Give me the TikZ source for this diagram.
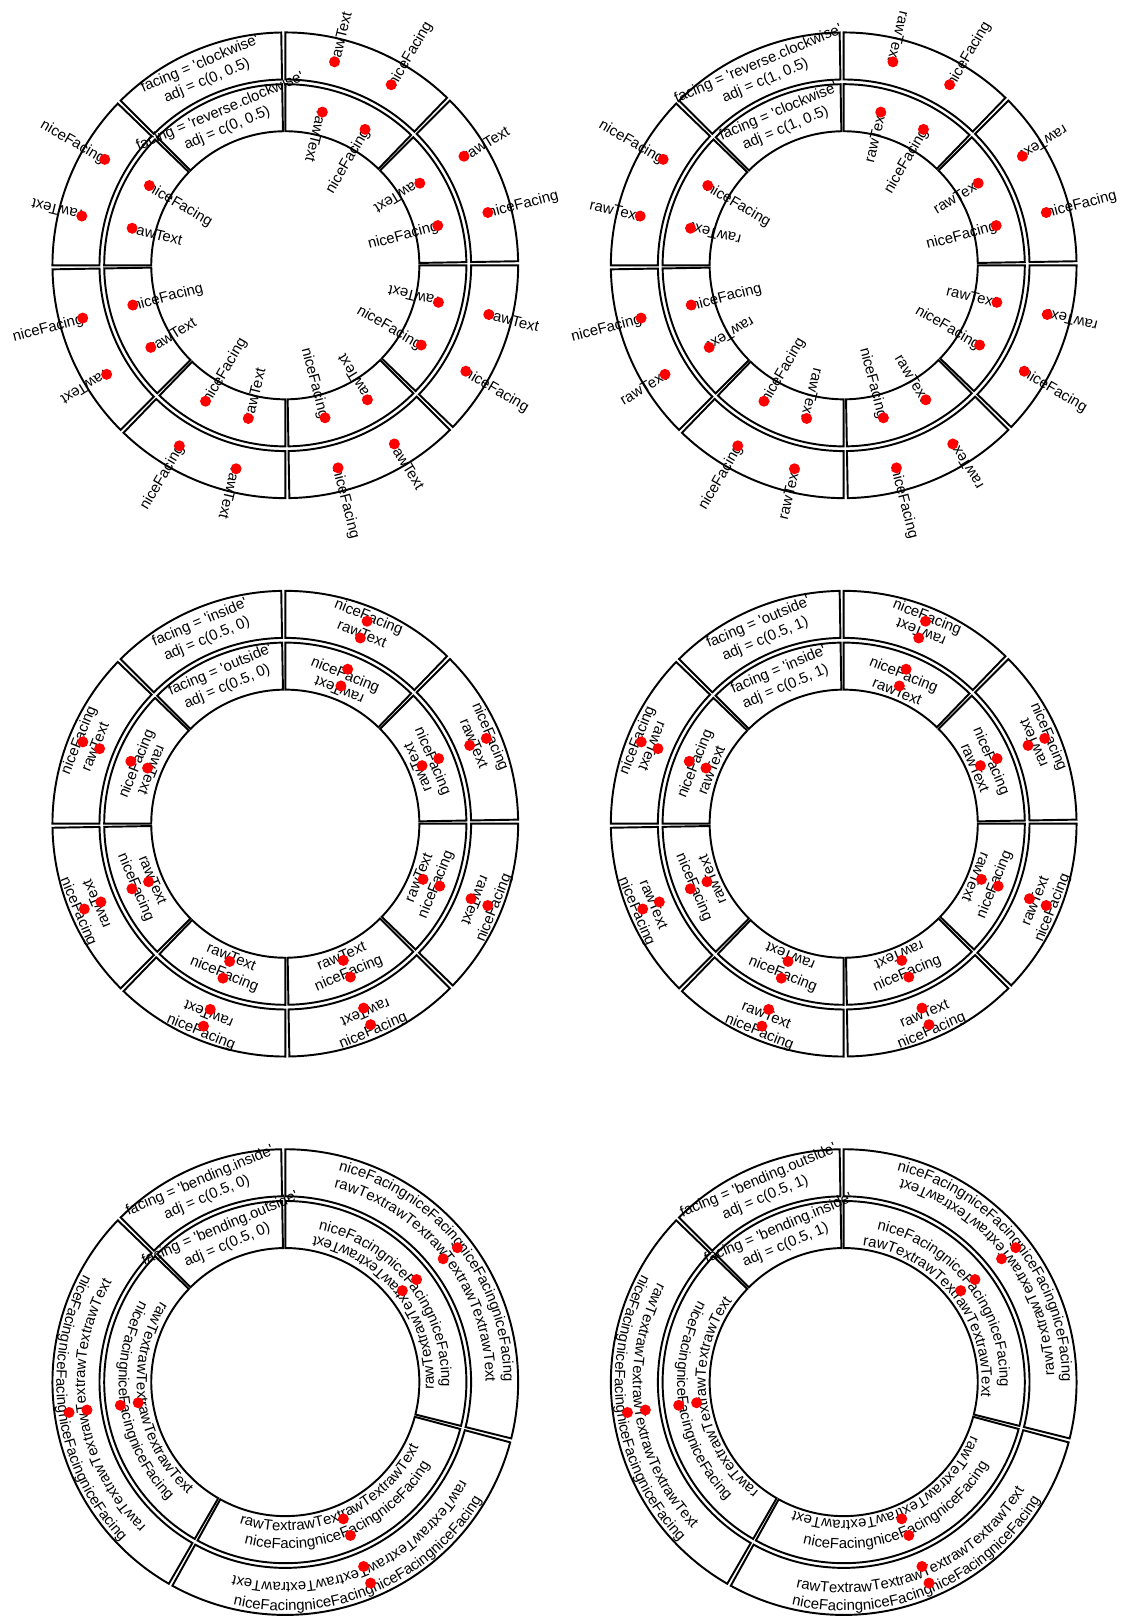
\documentclass[tikz,border=0pt]{standalone}
\usepackage{fontspec}
\setmainfont{Liberation Sans}[Ligatures=TeXOff]
\usetikzlibrary{decorations.text}

\pgfdeclarelayer{dots}
\pgfsetlayers{main,dots}

\newcommand{\plotfont}{\fontsize{8.5pt}{10.2pt}\selectfont}

% track radii (cm)
\def\rOo{4.657}
\def\rOi{3.716}
\def\rIo{3.622}
\def\rIi{2.681}

% anchor name from adj codes 0/1/2
\newcommand{\adjanchor}[2]{%
  \ifcase\numexpr#2\relax
    \ifcase\numexpr#1\relax south west\or south\or south east\fi
  \or
    \ifcase\numexpr#1\relax west\or center\or east\fi
  \or
    \ifcase\numexpr#1\relax north west\or north\or north east\fi
  \fi}

% one cell: start angle, end angle, inner radius, outer radius
\newcommand{\sectorcell}[4]{%
  \draw[cellborder] ({#1}:{#4}) arc[start angle={#1}, end angle={#2}, radius={#4}]
    -- ({#2}:{#3}) arc[start angle={#2}, end angle={#1}, radius={#3}] -- cycle;}

% straight text: angle, radius, rotation offset, adj x, adj y, nice, text, name
\newcommand{\circtext}[8]{%
  \pgfmathsetmacro\tang{#1}%
  \pgfmathsetmacro\trot{\tang+#3}%
  \pgfmathtruncatemacro\tax{round(2*#4)}%
  \pgfmathtruncatemacro\tay{round(2*#5)}%
  \pgfmathtruncatemacro\tflip{(#6==1)&&(cos(\trot)<0)}%
  \ifnum\tflip=1
    \pgfmathsetmacro\trot{\trot+180}%
    \pgfmathtruncatemacro\tax{2-\tax}%
    \pgfmathtruncatemacro\tay{2-\tay}%
  \fi
  \edef\tanc{\adjanchor{\tax}{\tay}}%
  \node[facetext, rotate=\trot, anchor=\tanc] (#8) at ({\tang}:{#2}) {#7};
  \begin{pgfonlayer}{dots}
    \fill[reddot] ({\tang}:{#2}) circle[radius=0.11];
  \end{pgfonlayer}}

% bent text: angle, radius, side (1 inside, -1 outside), adj y, nice, text
\newcommand{\bendtext}[6]{%
  \pgfmathsetmacro\bang{#1}%
  \pgfmathtruncatemacro\bside{#3}%
  \pgfmathsetmacro\bay{#4}%
  \pgfmathtruncatemacro\bflip{(#5==1)&&((#3)*sin(\bang)<0)}%
  \ifnum\bflip=1
    \pgfmathtruncatemacro\bside{-(#3)}%
    \pgfmathsetmacro\bay{1-#4}%
  \fi
  \pgfmathsetmacro\brad{#2-(\bside)*(\bay)*0.21}%
  \pgfmathsetmacro\bfrom{\bang+(\bside)*80}%
  \pgfmathsetmacro\bto{\bang-(\bside)*80}%
  \path[decorate, decoration={text along path, text align=center,
      text={|\plotfont|#6}}]
    (\bfrom:\brad) arc[start angle=\bfrom, end angle=\bto, radius=\brad];
  \begin{pgfonlayer}{dots}
    \fill[reddot] ({\bang}:{#2}) circle[radius=0.11];
  \end{pgfonlayer}}

\begin{document}
\begin{tikzpicture}[
  cellborder/.style={line width=1.1pt},
  facetext/.style={font=\plotfont, inner sep=0pt, outer sep=0pt,
                   text height=6.1pt, text depth=0pt},
  facelabel/.style={font=\plotfont, align=center, inner sep=0pt},
  reddot/.style={fill=red}
]
\fill[white] (0,0) rectangle (22.52,32.32);
\useasboundingbox (0,0) rectangle (22.52,32.32);

% clockwise, adj = c(0, 0.5)
\begin{scope}[shift={(5.706,27.014)}]
  \foreach \a in {90,45,...,-225} {
    \sectorcell{\a}{\a-44}{\rOi}{\rOo}
    \sectorcell{\a}{\a-44}{\rIi}{\rIo}
  }
  \foreach \a in {90,45,...,-180} {
    \circtext{\a-13.6}{4.187}{0}{0}{0.5}{0}{rawText}{p1o\a r}
    \circtext{\a-30.4}{4.187}{0}{0}{0.5}{1}{niceFacing}{p1o\a n}
    \circtext{\a-13.6}{3.152}{180}{0}{0.5}{0}{rawText}{p1i\a r}
    \circtext{\a-30.4}{3.152}{180}{0}{0.5}{1}{niceFacing}{p1i\a n}
  }
  \node[facelabel, rotate=23] (lab1o) at (113:4.187)
    {facing = 'clockwise'\\adj = c(0, 0.5)};
  \node[facelabel, rotate=23] (lab1i) at (113:3.152)
    {facing = 'reverse.clockwise'\\adj = c(0, 0.5)};
\end{scope}

% reverse.clockwise, adj = c(1, 0.5)
\begin{scope}[shift={(16.874,27.014)}]
  \foreach \a in {90,45,...,-225} {
    \sectorcell{\a}{\a-44}{\rOi}{\rOo}
    \sectorcell{\a}{\a-44}{\rIi}{\rIo}
  }
  \foreach \a in {90,45,...,-180} {
    \circtext{\a-13.6}{4.187}{180}{1}{0.5}{0}{rawText}{p2o\a r}
    \circtext{\a-30.4}{4.187}{180}{1}{0.5}{1}{niceFacing}{p2o\a n}
    \circtext{\a-13.6}{3.152}{0}{1}{0.5}{0}{rawText}{p2i\a r}
    \circtext{\a-30.4}{3.152}{0}{1}{0.5}{1}{niceFacing}{p2i\a n}
  }
  \node[facelabel, rotate=23] (lab2o) at (113:4.187)
    {facing = 'reverse.clockwise'\\adj = c(1, 0.5)};
  \node[facelabel, rotate=23] (lab2i) at (113:3.152)
    {facing = 'clockwise'\\adj = c(1, 0.5)};
\end{scope}

% inside / outside, adj = c(0.5, 0)
\begin{scope}[shift={(5.706,15.846)}]
  \foreach \a in {90,45,...,-225} {
    \sectorcell{\a}{\a-44}{\rOi}{\rOo}
    \sectorcell{\a}{\a-44}{\rIi}{\rIo}
  }
  \foreach \a in {90,45,...,-180} {
    \circtext{\a-22}{4.006}{-90}{0.5}{0}{0}{rawText}{p3o\a r}
    \circtext{\a-22}{4.367}{-90}{0.5}{0}{1}{niceFacing}{p3o\a n}
    \circtext{\a-22}{2.971}{90}{0.5}{0}{0}{rawText}{p3i\a r}
    \circtext{\a-22}{3.332}{90}{0.5}{0}{1}{niceFacing}{p3i\a n}
  }
  \node[facelabel, rotate=23] (lab3o) at (113:4.187)
    {facing = 'inside'\\adj = c(0.5, 0)};
  \node[facelabel, rotate=23] (lab3i) at (113:3.152)
    {facing = 'outside'\\adj = c(0.5, 0)};
\end{scope}

% outside / inside, adj = c(0.5, 1)
\begin{scope}[shift={(16.874,15.846)}]
  \foreach \a in {90,45,...,-225} {
    \sectorcell{\a}{\a-44}{\rOi}{\rOo}
    \sectorcell{\a}{\a-44}{\rIi}{\rIo}
  }
  \foreach \a in {90,45,...,-180} {
    \circtext{\a-22}{4.006}{90}{0.5}{1}{0}{rawText}{p4o\a r}
    \circtext{\a-22}{4.367}{90}{0.5}{1}{1}{niceFacing}{p4o\a n}
    \circtext{\a-22}{2.971}{-90}{0.5}{1}{0}{rawText}{p4i\a r}
    \circtext{\a-22}{3.332}{-90}{0.5}{1}{1}{niceFacing}{p4i\a n}
  }
  \node[facelabel, rotate=23] (lab4o) at (113:4.187)
    {facing = 'outside'\\adj = c(0.5, 1)};
  \node[facelabel, rotate=23] (lab4i) at (113:3.152)
    {facing = 'inside'\\adj = c(0.5, 1)};
\end{scope}

% bending.inside / bending.outside, adj = c(0.5, 0)
\begin{scope}[shift={(5.706,4.678)}]
  \foreach \a/\b in {90/-14,-15/-119,-120/-224,-225/-269} {
    \sectorcell{\a}{\b}{\rOi}{\rOo}
    \sectorcell{\a}{\b}{\rIi}{\rIo}
  }
  \foreach \m in {38,-67,-172} {
    \bendtext{\m}{4.006}{1}{0}{0}{rawTextrawTextrawTextrawTextrawText}
    \bendtext{\m}{4.367}{1}{0}{1}{niceFacingniceFacingniceFacingniceFacing}
    \bendtext{\m}{2.971}{-1}{0}{0}{rawTextrawTextrawTextrawText}
    \bendtext{\m}{3.332}{-1}{0}{1}{niceFacingniceFacingniceFacing}
  }
  \node[facelabel, rotate=23] (lab5o) at (113:4.187)
    {facing = 'bending.inside'\\adj = c(0.5, 0)};
  \node[facelabel, rotate=23] (lab5i) at (113:3.152)
    {facing = 'bending.outside'\\adj = c(0.5, 0)};
\end{scope}

% bending.outside / bending.inside, adj = c(0.5, 1)
\begin{scope}[shift={(16.874,4.678)}]
  \foreach \a/\b in {90/-14,-15/-119,-120/-224,-225/-269} {
    \sectorcell{\a}{\b}{\rOi}{\rOo}
    \sectorcell{\a}{\b}{\rIi}{\rIo}
  }
  \foreach \m in {38,-67,-172} {
    \bendtext{\m}{4.006}{-1}{1}{0}{rawTextrawTextrawTextrawTextrawText}
    \bendtext{\m}{4.367}{-1}{1}{1}{niceFacingniceFacingniceFacingniceFacing}
    \bendtext{\m}{2.971}{1}{1}{0}{rawTextrawTextrawTextrawText}
    \bendtext{\m}{3.332}{1}{1}{1}{niceFacingniceFacingniceFacing}
  }
  \node[facelabel, rotate=23] (lab6o) at (113:4.187)
    {facing = 'bending.outside'\\adj = c(0.5, 1)};
  \node[facelabel, rotate=23] (lab6i) at (113:3.152)
    {facing = 'bending.inside'\\adj = c(0.5, 1)};
\end{scope}
\end{tikzpicture}
\end{document}
